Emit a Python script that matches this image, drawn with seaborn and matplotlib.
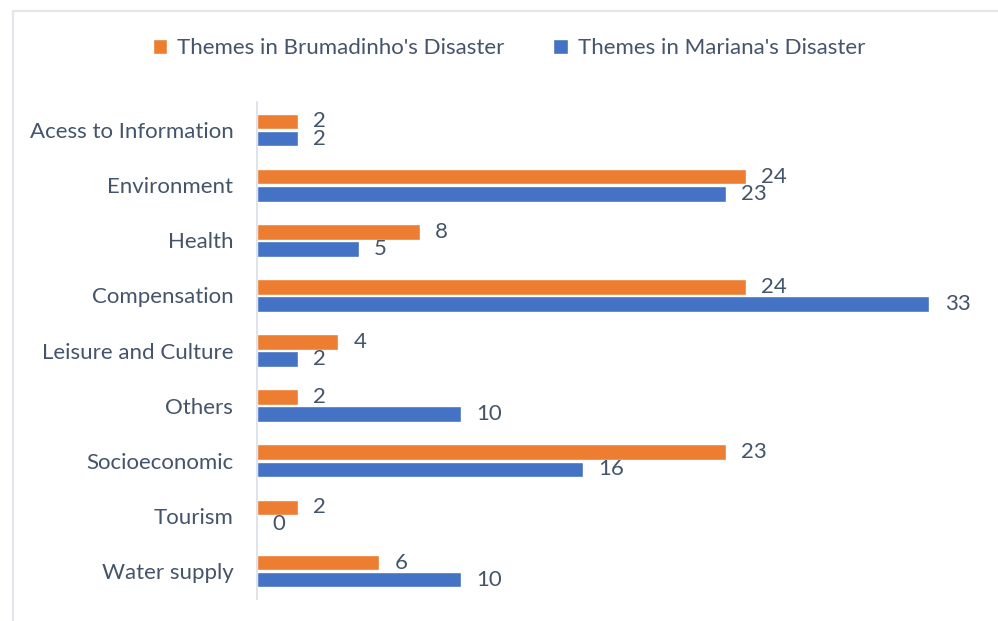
import matplotlib.pyplot as plt
import pandas as pd
import seaborn as sns
from matplotlib.patches import Patch
from matplotlib.lines import Line2D

themes = ["Acess to Information", "Environment", "Health", "Compensation",
          "Leisure and Culture", "Others", "Socioeconomic", "Tourism", "Water supply"]
brumadinho = [2, 24, 8, 24, 4, 2, 23, 2, 6]
mariana = [2, 23, 5, 33, 2, 10, 16, 0, 10]
series = ["Themes in Brumadinho's Disaster", "Themes in Mariana's Disaster"]
colors = ["#ED7D31", "#4472C4"]
text_color = "#44546A"

df = pd.DataFrame({"Theme": themes * 2,
                   "Count": brumadinho + mariana,
                   "Series": [series[0]] * len(themes) + [series[1]] * len(themes)})

sns.set_theme(style="white")
plt.rcParams["font.family"] = ["Lato", "DejaVu Sans"]

fig = plt.figure(figsize=(9.98, 6.21), dpi=100)
ax = fig.add_axes([0.2575, 0.036, 0.735, 0.799])

sns.barplot(data=df, y="Theme", x="Count", hue="Series", order=themes,
            hue_order=series, palette=colors, saturation=1, orient="h",
            width=0.62, gap=0.08, legend=False, ax=ax)

for cont in ax.containers:
    ax.bar_label(cont, padding=11, fontsize=16, color=text_color)

ax.set_xlim(0, 36)
ax.set_ylim(8.5, -0.5)
ax.set_xlabel("")
ax.set_ylabel("")
ax.set_xticks([])
ax.tick_params(axis="y", length=0, pad=17, labelsize=16, labelcolor=text_color)
for s in ["top", "right", "bottom"]:
    ax.spines[s].set_visible(False)
ax.spines["left"].set_color("#D9DEE6")
ax.spines["left"].set_linewidth(1.2)

handles = [Patch(facecolor=c, label=l) for c, l in zip(colors, series)]
fig.legend(handles=handles, loc="center", bbox_to_anchor=(0.51, 0.922), ncol=2,
           frameon=False, fontsize=16, handlelength=0.65, handleheight=0.65,
           handletextpad=0.45, columnspacing=2.2, labelcolor=text_color)

# light outer frame (top and left edges visible)
fig.add_artist(Line2D([0.013, 1.0], [0.982, 0.982], transform=fig.transFigure,
                      color="#E3E6EA", lw=1.5))
fig.add_artist(Line2D([0.013, 0.013], [0.0, 0.982], transform=fig.transFigure,
                      color="#E3E6EA", lw=1.5))

plt.savefig("out.png", dpi=100)
